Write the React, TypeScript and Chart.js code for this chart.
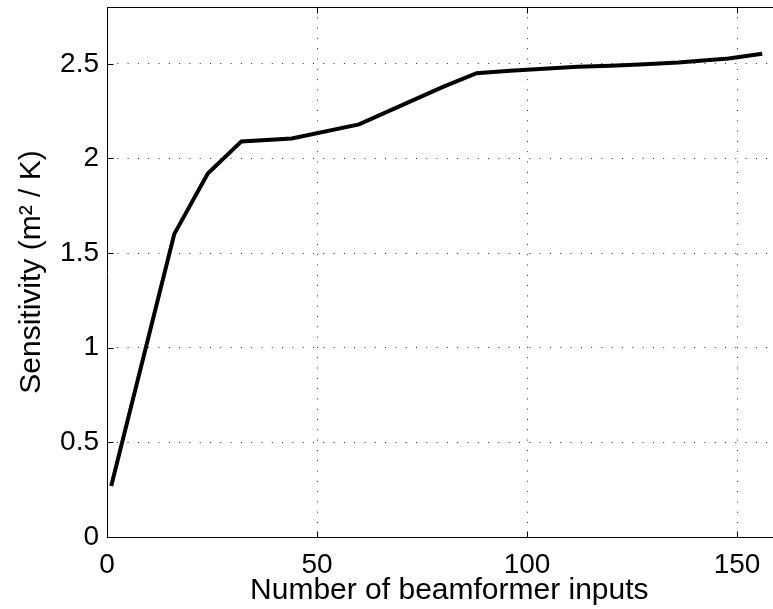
import React, { useEffect, useRef } from 'react';
import { Chart, registerables } from 'chart.js';

Chart.register(...registerables);

// ---- data ----
const beamformerInputs = [1, 16, 24, 32, 44, 60, 80, 88, 96, 104, 112, 120, 128, 136, 148, 156];
const sensitivity = [0.27, 1.6, 1.92, 2.09, 2.105, 2.18, 2.378, 2.45, 2.463, 2.474, 2.484, 2.49, 2.498, 2.507, 2.528, 2.553];
const xTickValues = [0, 50, 100, 150];
const yTickValues = [0, 0.5, 1, 1.5, 2, 2.5];
const xMin = 0;
const xMax = 163;
const yMin = 0;
const yMax = 2.8;
const xTitle = 'Number of beamformer inputs';
const yTitle = 'Sensitivity (m\u00B2 / K)';

const FONT = '"Liberation Sans", Arial, Helvetica, sans-serif';
const CANVAS_W = 800;
const CANVAS_H = 609;

const framePlugin = {
  id: 'matlabFrame',
  afterDraw(chart: any) {
    const { ctx, chartArea } = chart;
    const { left, right, top, bottom } = chartArea;
    const xs = chart.scales.x;
    const ys = chart.scales.y;
    const L = Math.round(left) + 0.5;
    const R = Math.round(right) + 0.5;
    const T = Math.round(top) + 0.5;
    const B = Math.round(bottom) + 0.5;
    ctx.save();
    ctx.strokeStyle = '#000';
    ctx.lineWidth = 1;
    ctx.setLineDash([]);
    ctx.beginPath();
    ctx.rect(L, T, R - L, B - T);
    ctx.stroke();
    const tl = 6;
    ctx.beginPath();
    for (const v of xTickValues) {
      const px = Math.round(xs.getPixelForValue(v)) + 0.5;
      ctx.moveTo(px, B);
      ctx.lineTo(px, B - tl);
      ctx.moveTo(px, T);
      ctx.lineTo(px, T + tl);
    }
    for (const v of yTickValues) {
      const py = Math.round(ys.getPixelForValue(v)) + 0.5;
      ctx.moveTo(L, py);
      ctx.lineTo(L + tl, py);
      ctx.moveTo(R, py);
      ctx.lineTo(R - tl, py);
    }
    ctx.stroke();
    ctx.restore();
  },
};

export default function App() {
  const canvasRef = useRef<HTMLCanvasElement | null>(null);

  useEffect(() => {
    const canvas = canvasRef.current;
    if (!canvas) return;
    const chart = new Chart(canvas, {
      type: 'line',
      data: {
        datasets: [
          {
            data: beamformerInputs.map((x, i) => ({ x, y: sensitivity[i] })),
            borderColor: '#000',
            borderWidth: 4,
            pointRadius: 0,
            tension: 0,
            fill: false,
          },
        ],
      },
      options: {
        animation: false,
        responsive: false,
        devicePixelRatio: 1,
        events: [],
        layout: { padding: { left: 0, right: CANVAS_W - (107 + (xMax - xMin) * 4.2), top: 7, bottom: 0 } },
        plugins: { legend: { display: false }, tooltip: { enabled: false } },
        scales: {
          x: {
            type: 'linear',
            min: xMin,
            max: xMax,
            afterBuildTicks: (s: any) => {
              s.ticks = xTickValues.map((v) => ({ value: v }));
            },
            afterFit: (s: any) => {
              s.height = 72;
              s.paddingLeft = 0;
              s.paddingRight = 0;
            },
            ticks: {
              includeBounds: false,
              color: '#000',
              font: { family: FONT, size: 28 },
              padding: 11,
              maxRotation: 0,
              callback: (v: any) => String(v),
            },
            grid: {
              color: 'rgba(0,0,0,0.85)',
              lineWidth: 1,
              drawTicks: false,
            },
            border: { display: false, dash: [1, 9.3] },
            title: {
              display: true,
              text: xTitle,
              color: '#000',
              font: { family: FONT, size: 30 },
              padding: { top: 0, bottom: 0 },
            },
          },
          y: {
            type: 'linear',
            min: yMin,
            max: yMax,
            afterBuildTicks: (s: any) => {
              s.ticks = yTickValues.map((v) => ({ value: v }));
            },
            afterFit: (s: any) => {
              s.width = 107;
              s.paddingTop = 0;
              s.paddingBottom = 0;
            },
            ticks: {
              includeBounds: false,
              color: '#000',
              font: { family: FONT, size: 28 },
              padding: 8,
              callback: (v: any) => String(v),
            },
            grid: {
              color: 'rgba(0,0,0,0.85)',
              lineWidth: 1,
              drawTicks: false,
            },
            border: { display: false, dash: [1, 9.3] },
            title: {
              display: true,
              text: yTitle,
              color: '#000',
              font: { family: FONT, size: 30 },
              padding: { top: 14, bottom: 0 },
            },
          },
        },
      },
      plugins: [framePlugin],
    } as any);
    return () => chart.destroy();
  }, []);

  return (
    <div
      style={{
        position: 'absolute',
        left: 0,
        top: 0,
        width: 773,
        height: 609,
        overflow: 'hidden',
        background: '#fff',
      }}
    >
      <canvas ref={canvasRef} width={CANVAS_W} height={CANVAS_H} style={{ display: 'block' }} />
    </div>
  );
}
